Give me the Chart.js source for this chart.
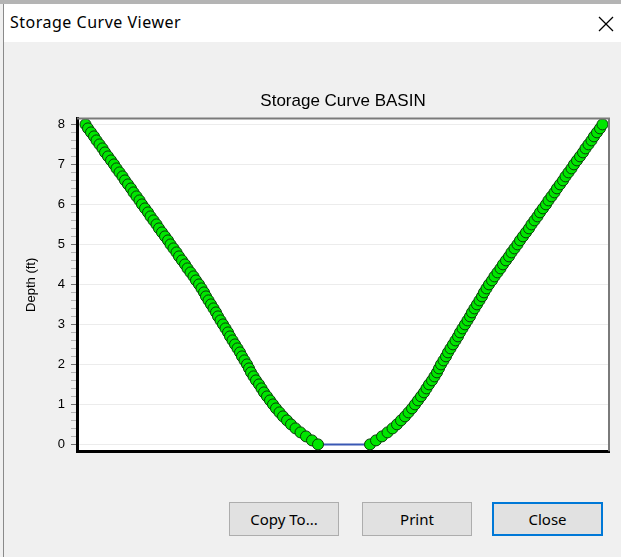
<!DOCTYPE html>
<html>
<head>
<meta charset="utf-8">
<script src="https://cdn.jsdelivr.net/npm/chart.js@4.4.0/dist/chart.umd.min.js"></script>
<style>
  html, body { margin: 0; padding: 0; }
  body { width: 621px; height: 557px; background: #f0f0f0; position: relative; overflow: hidden; font-family: "Noto Sans", sans-serif; }
  #topstrip { position: absolute; left: 0; top: 0; width: 621px; height: 4px; background: #b4b4b4; }
  #titlebar { position: absolute; left: 4px; top: 4px; width: 617px; height: 38px; background: #fff; }
  #titlebar .cap { position: absolute; left: 6px; top: 7px; font-size: 16px; letter-spacing: 0.5px; color: #000; }
  #titlebar svg { position: absolute; left: 594px; top: 12px; }
  #leftedge { position: absolute; left: 3px; top: 4px; width: 1px; height: 553px; background: #8a8a8a; }
  #chart { position: absolute; left: 0; top: 45px; }
  .btn { position: absolute; top: 502px; height: 34px; background: #e1e1e1; border: 1px solid #adadad;
         box-sizing: border-box; font-family: "Noto Sans", sans-serif; font-size: 15px; color: #000;
         display: flex; align-items: center; justify-content: center; }
  .btn.def { border: 2px solid #0078d7; }
</style>
</head>
<body>
<div id="topstrip"></div>
<div id="titlebar">
  <span class="cap">Storage Curve Viewer</span>
  <svg width="16" height="16"><line x1="1" y1="1" x2="15" y2="15" stroke="#000" stroke-width="1.2"/><line x1="15" y1="1" x2="1" y2="15" stroke="#000" stroke-width="1.2"/></svg>
</div>
<div id="leftedge"></div>
<canvas id="chart" width="621" height="420"></canvas>
<div class="btn" style="left:229px;width:110px;">Copy To...</div>
<div class="btn" style="left:362px;width:110px;">Print</div>
<div class="btn def" style="left:492px;width:111px;">Close</div>
<script>
// storage curve: depth (ft) and half width
const depths = [
  0.0, 0.1, 0.2, 0.3, 0.4, 0.5, 0.6, 0.7, 0.8, 0.9,
  1.0, 1.1, 1.2, 1.3, 1.4, 1.5, 1.6, 1.7, 1.8, 1.9,
  2.0, 2.1, 2.2, 2.3, 2.4, 2.5, 2.6, 2.7, 2.8, 2.9,
  3.0, 3.1, 3.2, 3.3, 3.4, 3.5, 3.6, 3.7, 3.8, 3.9,
  4.0, 4.1, 4.2, 4.3, 4.4, 4.5, 4.6, 4.7, 4.8, 4.9,
  5.0, 5.1, 5.2, 5.3, 5.4, 5.5, 5.6, 5.7, 5.8, 5.9,
  6.0, 6.1, 6.2, 6.3, 6.4, 6.5, 6.6, 6.7, 6.8, 6.9,
  7.0, 7.1, 7.2, 7.3, 7.4, 7.5, 7.6, 7.7, 7.8, 7.9,
  8.0
];
const halfWidths = [
  5.2, 6.4, 7.6, 8.7, 9.7, 10.6, 11.4, 12.2, 12.9, 13.6,
  14.2, 14.8, 15.4, 16.0, 16.5, 17.0, 17.6, 18.1, 18.6, 19.0,
  19.4, 19.9, 20.4, 20.8, 21.3, 21.8, 22.3, 22.8, 23.2, 23.7,
  24.2, 24.7, 25.2, 25.6, 26.1, 26.6, 27.1, 27.6, 28.0, 28.5,
  29.0, 29.6, 30.1, 30.7, 31.3, 31.8, 32.4, 33.0, 33.5, 34.1,
  34.7, 35.2, 35.8, 36.4, 37.0, 37.5, 38.1, 38.7, 39.2, 39.8,
  40.4, 40.9, 41.5, 42.1, 42.6, 43.2, 43.8, 44.3, 44.9, 45.5,
  46.0, 46.6, 47.2, 47.8, 48.3, 48.9, 49.5, 50.0, 50.6, 51.2,
  51.7
];
const chartTitle = 'Storage Curve BASIN';
const yTitle = 'Depth (ft)';

// left bank from the top down, then right bank back up
var points = [];
for (var i = depths.length - 1; i >= 0; i--) points.push({x: -halfWidths[i], y: depths[i]});
for (var j = 0; j < depths.length; j++) points.push({x: halfWidths[j], y: depths[j]});

function isMajor(v) { return Math.abs(v - Math.round(v)) < 1e-6; }

const framePlugin = {
  id: 'frame',
  beforeDraw(chart) {
    const a = chart.chartArea, ctx = chart.ctx;
    ctx.save();
    ctx.fillStyle = '#fff';
    ctx.fillRect(a.left, a.top, a.right - a.left, a.bottom - a.top);
    ctx.restore();
  },
  afterDraw(chart) {
    const a = chart.chartArea, ctx = chart.ctx;
    ctx.save();
    ctx.strokeStyle = '#7a7a7a';
    ctx.lineWidth = 2;
    ctx.beginPath();
    ctx.moveTo(a.left, a.top);
    ctx.lineTo(a.right, a.top);
    ctx.lineTo(a.right, a.bottom);
    ctx.stroke();
    ctx.restore();
  }
};

Chart.defaults.font.family = '"Liberation Sans", Arial, sans-serif';
Chart.defaults.color = '#000';

new Chart(document.getElementById('chart'), {
  type: 'line',
  data: {
    datasets: [{
      data: points,
      borderColor: '#3a58b4',
      borderWidth: 2,
      pointRadius: 5.5,
      pointBorderWidth: 1,
      pointBorderColor: '#0b3d0b',
      pointBackgroundColor: '#00e600',
      tension: 0,
      clip: false
    }]
  },
  options: {
    responsive: false,
    animation: false,
    layout: { padding: { top: 46, right: 12, bottom: 13, left: 0 } },
    plugins: {
      legend: { display: false },
      tooltip: { enabled: false },
      title: {
        display: true,
        fullSize: false,
        text: chartTitle,
        color: '#000',
        font: { size: 17, weight: 'normal' },
        padding: { top: 0, bottom: 7 }
      }
    },
    scales: {
      x: {
        type: 'linear',
        min: -53.4,
        max: 53,
        ticks: { display: false },
        grid: { drawOnChartArea: false, drawTicks: false },
        border: { color: '#000', width: 3 }
      },
      y: {
        type: 'linear',
        min: -0.17,
        max: 8.15,
        afterFit(scale) { scale.width = 77; },
        ticks: {
          stepSize: 0.2,
          includeBounds: false,
          autoSkip: false,
          padding: 6,
          font: { size: 13 },
          callback: function (v) { return isMajor(v) ? String(Math.round(v)) : ''; }
        },
        grid: {
          tickLength: 6,
          color: function (c) { return c.tick && isMajor(c.tick.value) ? '#ececec' : 'rgba(0,0,0,0)'; },
          tickColor: function (c) { return c.tick && isMajor(c.tick.value) ? '#6e6e6e' : '#b4b4b4'; }
        },
        border: { color: '#000', width: 3 },
        title: {
          display: true,
          text: yTitle,
          font: { size: 13 },
          padding: { top: 24, bottom: 0 }
        }
      }
    }
  },
  plugins: [framePlugin]
});
</script>
</body>
</html>
